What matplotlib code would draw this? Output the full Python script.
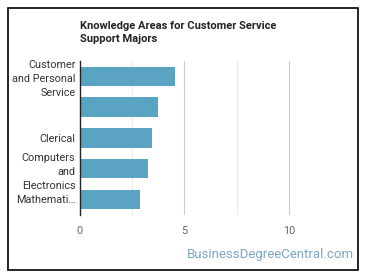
import matplotlib.pyplot as plt
from matplotlib.patches import Rectangle

# Knowledge area data
labels = ['Customer\nand Personal\nService', '', 'Clerical',
          'Computers\nand\nElectronics', 'Mathemati\u2026']
values = [4.57, 3.77, 3.48, 3.29, 2.91]
xticks = [0, 5, 10]

plt.rcParams['font.family'] = ['Roboto', 'DejaVu Sans']

fig = plt.figure(figsize=(3.7, 2.78), dpi=100)
ax = fig.add_axes([0.215, 0.227, 0.707, 0.554])

pos = list(range(len(values)))
ax.barh(pos, values, height=0.63, color='#5ba3c2', zorder=2)
ax.set_ylim(len(values) - 0.5, -0.5)
ax.set_xlim(0, 12.5)

ax.set_yticks(pos)
ax.set_yticklabels(labels, fontsize=7.8, color='#333333', linespacing=1.5)
ax.set_xticks(xticks)
ax.set_xticklabels([str(t) for t in xticks], fontsize=7.8, color='#666666')
ax.tick_params(axis='y', length=0, pad=3)
ax.tick_params(axis='x', length=0, pad=8)

# grid lines
for x in [2.5, 7.5]:
    ax.axvline(x, color='#ebebeb', lw=0.8, zorder=1)
for x in [5, 10]:
    ax.axvline(x, color='#cccccc', lw=0.8, zorder=1)

for s in ['top', 'right', 'bottom']:
    ax.spines[s].set_visible(False)
ax.spines['left'].set_color('#222222')
ax.spines['left'].set_linewidth(1)
ax.spines['left'].set_zorder(3)

fig.text(0.215, 0.925, 'Knowledge Areas for Customer Service\nSupport Majors',
         fontsize=8, fontweight='bold', color='#222222', ha='left', va='top',
         linespacing=1.45)

fig.text(0.958, 0.06, 'BusinessDegreeCentral.com', fontsize=9.5,
         color='#7aa7c3', ha='right', va='bottom')

# frame around figure
fig.patches.append(Rectangle((8 / 370, 8 / 278), 350 / 370, 262 / 278,
                             transform=fig.transFigure, fill=False,
                             edgecolor='black', lw=1.2))

fig.savefig('out.png', dpi=100)
